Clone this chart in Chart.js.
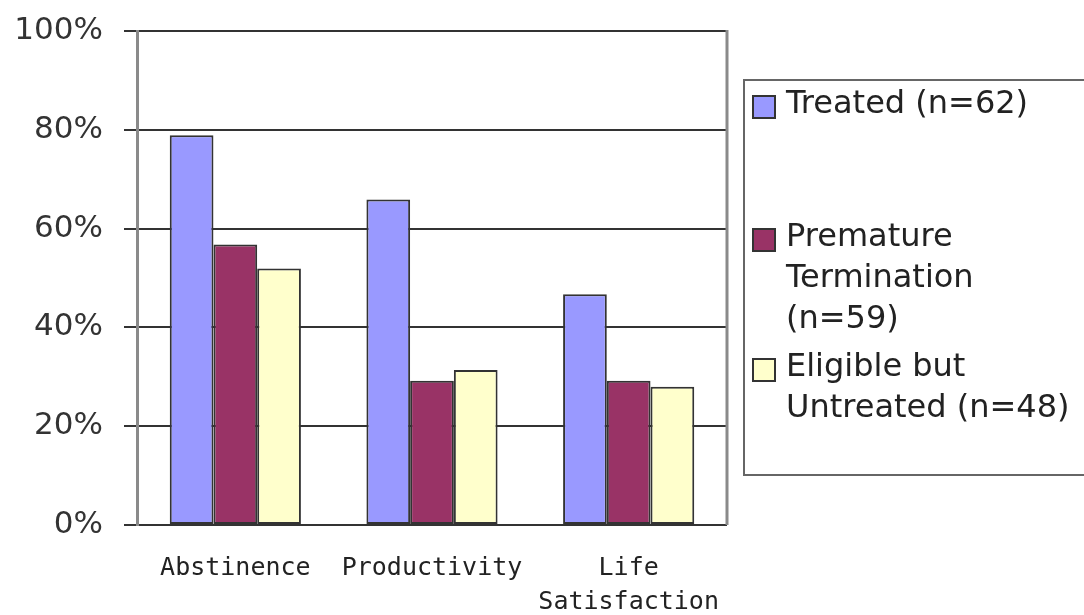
<!DOCTYPE html>
<html>
<head>
<meta charset="utf-8">
<script src="https://cdn.jsdelivr.net/npm/chart.js@4/dist/chart.umd.min.js"></script>
<style>
  html, body { margin: 0; padding: 0; background: #fff; }
  #wrap { width: 1084px; height: 615px; position: relative; }
</style>
</head>
<body>
<div id="wrap"><canvas id="bars"></canvas></div>
<script>
'use strict'
const categories = ['Abstinence', 'Productivity', ['Life', 'Satisfaction']]
const seriesNames = [['Treated (n=62)'], ['Premature', 'Termination', '(n=59)'], ['Eligible but', 'Untreated (n=48)']]
const treated = [78.9, 65.9, 46.7]
const premature = [56.8, 29.2, 29.2]
const eligible = [51.9, 31.4, 28.0]
const yTicks = [0, 20, 40, 60, 80, 100]

const colors = ['#9999ff', '#993366', '#ffffcc']

// right border of the plot frame
const frame = {
  id: 'frame',
  beforeDatasetsDraw(chart) {
    const a = chart.chartArea
    const ctx = chart.ctx
    ctx.save()
    ctx.strokeStyle = '#8a8a8a'
    ctx.lineWidth = 3
    ctx.beginPath()
    ctx.moveTo(a.right, a.top - 1)
    ctx.lineTo(a.right, a.bottom)
    ctx.stroke()
    ctx.restore()
  }
}

// boxed legend on the right, multi-line labels
const sideLegend = {
  id: 'sideLegend',
  afterDraw(chart) {
    const ctx = chart.ctx
    const tops = [105, 238, 368]
    ctx.save()
    ctx.strokeStyle = '#666'
    ctx.lineWidth = 2
    ctx.strokeRect(744, 80, 360, 395)
    ctx.font = '32px "DejaVu Sans"'
    ctx.textBaseline = 'middle'
    chart.data.datasets.forEach((ds, i) => {
      const y = tops[i]
      ctx.fillStyle = ds.backgroundColor
      ctx.fillRect(753, y - 9, 22, 22)
      ctx.strokeStyle = '#333'
      ctx.lineWidth = 2
      ctx.strokeRect(753, y - 9, 22, 22)
      ctx.fillStyle = '#222'
      seriesNames[i].forEach((line, j) => {
        ctx.fillText(line, 786, y + j * 41)
      })
    })
    ctx.restore()
  }
}

const data = {
  labels: categories,
  datasets: [
    { label: seriesNames[0].join(' '), data: treated, backgroundColor: colors[0] },
    { label: seriesNames[1].join(' '), data: premature, backgroundColor: colors[1] },
    { label: seriesNames[2].join(' '), data: eligible, backgroundColor: colors[2] }
  ].map(d => Object.assign(d, { borderColor: '#333', borderWidth: 2, borderSkipped: false }))
}

const config = {
  type: 'bar',
  data: data,
  plugins: [frame, sideLegend],
  options: {
    responsive: true,
    maintainAspectRatio: false,
    animation: false,
    layout: { padding: { left: 0, top: 31, right: 357, bottom: 0 } },
    plugins: {
      legend: { display: false },
      tooltip: { enabled: false }
    },
    datasets: { bar: { categoryPercentage: 0.667, barPercentage: 1 } },
    scales: {
      x: {
        grid: { display: false, drawTicks: false },
        border: { display: false },
        ticks: {
          padding: 26,
          maxRotation: 0,
          color: '#222',
          font: { family: '"DejaVu Sans Mono"', size: 25, lineHeight: 1.38 }
        },
        afterFit(scale) { scale.height = 90 }
      },
      y: {
        min: 0,
        max: 100,
        afterBuildTicks(scale) { scale.ticks = yTicks.map(v => ({ value: v })) },
        grid: { color: '#333', lineWidth: 2, tickLength: 13, tickColor: '#333' },
        border: { color: '#8a8a8a', width: 3 },
        ticks: {
          padding: 21,
          color: '#333',
          font: { family: '"DejaVu Sans"', size: 31 },
          callback: v => v + '%'
        },
        afterFit(scale) {
          scale.width = 137
          scale.paddingTop = 0
          scale.paddingBottom = 0
        }
      }
    }
  }
}

const chart = new Chart(document.querySelector('#bars'), config)
</script>
</body>
</html>
